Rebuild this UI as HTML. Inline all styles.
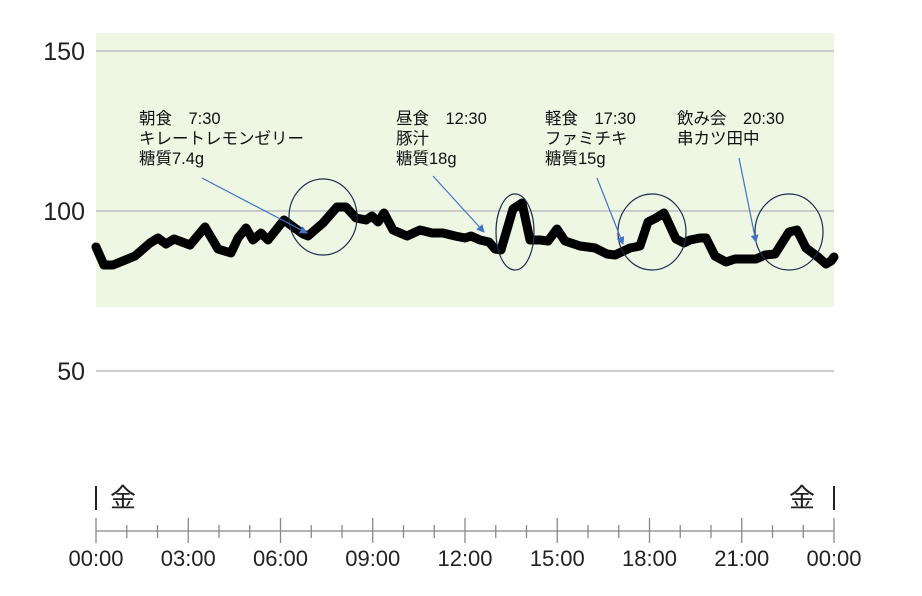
<!DOCTYPE html>
<html><head><meta charset="utf-8"><style>
html,body{margin:0;padding:0;background:#fff;}
svg text{font-family:"Liberation Sans","Noto Sans CJK JP",sans-serif;}
</style></head><body>
<svg width="922" height="591" viewBox="0 0 922 591" xmlns="http://www.w3.org/2000/svg">
<rect x="96" y="33" width="738" height="274" fill="#edf7e3"/>
<g stroke="#bdbdbd" stroke-width="1.5">
<line x1="96" y1="51" x2="834" y2="51"/>
<line x1="96" y1="211" x2="834" y2="211"/>
<line x1="96" y1="371" x2="834" y2="371"/>
</g>
<g font-size="25" fill="#222" text-anchor="end">
<text x="85" y="60">150</text>
<text x="85" y="220">100</text>
<text x="85" y="380">50</text>
</g>
<polyline fill="none" stroke="#000" stroke-width="9" stroke-linejoin="round" stroke-linecap="round" points="96,247 104,265 113,265 135,256 150,243 158,238 166,244 174,239 190,245 205,227 218,249 231,253 238,238 246,228 253,240 261,233 268,240 284,220 292,226 303,234 308,236 323,223 337,207 346,207 356,218 366,220 372,216 378,222 384,213 393,230 407,236 420,230 432,233 443,233 455,236 465,238 471,236 480,240 489,242 495,249 501,250 513,209 522,203 530,240 540,240 548,241 557,229 565,241 580,246 595,248 607,254 615,255 630,248 640,246 648,222 656,218 664,213 676,239 684,243 690,240 700,238 706,238 715,256 726,262 735,259 745,259 756,259 765,255 775,254 789,232 797,230 806,248 818,257 826,264 831,261 834,257"/>
<g fill="none" stroke="#1f2d4d" stroke-width="1.2">
<ellipse cx="323" cy="217" rx="34" ry="38"/>
<ellipse cx="515" cy="232" rx="19" ry="38"/>
<ellipse cx="652" cy="232" rx="34" ry="38"/>
<ellipse cx="789" cy="232" rx="34" ry="38"/>
</g>
<defs><marker id="ar" markerWidth="8" markerHeight="8" refX="7" refY="4" orient="auto" markerUnits="userSpaceOnUse"><path d="M0,0 L8,4 L0,8 z" fill="#4472c4"/></marker></defs>
<g stroke="#4472c4" stroke-width="1.2" marker-end="url(#ar)">
<line x1="202" y1="178" x2="307" y2="233"/>
<line x1="433" y1="176" x2="484" y2="232"/>
<line x1="597" y1="178" x2="623" y2="244"/>
<line x1="739" y1="158" x2="756" y2="242"/>
</g>
<g font-size="16.5" fill="#111">
<text x="139" y="124">朝食　7:30</text>
<text x="139" y="144">キレートレモンゼリー</text>
<text x="139" y="164">糖質7.4g</text>
<text x="396" y="124">昼食　12:30</text>
<text x="396" y="144">豚汁</text>
<text x="396" y="164">糖質18g</text>
<text x="545" y="124">軽食　17:30</text>
<text x="545" y="144">ファミチキ</text>
<text x="545" y="164">糖質15g</text>
<text x="677" y="124">飲み会　20:30</text>
<text x="677" y="144">串カツ田中</text>
</g>
<g stroke="#222" stroke-width="2">
<line x1="96" y1="486" x2="96" y2="510"/>
<line x1="834" y1="486" x2="834" y2="510"/>
</g>
<g font-size="26" fill="#222">
<text x="110" y="507">金</text>
<text x="789" y="507">金</text>
</g>
<g stroke="#888" stroke-width="1.3">
<line x1="96" y1="531" x2="834" y2="531"/>
<line x1="96" y1="518" x2="96" y2="543"/><line x1="188.25" y1="518" x2="188.25" y2="543"/><line x1="280.5" y1="518" x2="280.5" y2="543"/><line x1="372.75" y1="518" x2="372.75" y2="543"/><line x1="465" y1="518" x2="465" y2="543"/><line x1="557.25" y1="518" x2="557.25" y2="543"/><line x1="649.5" y1="518" x2="649.5" y2="543"/><line x1="741.75" y1="518" x2="741.75" y2="543"/><line x1="834" y1="518" x2="834" y2="543"/>
<path d="M126.75,525v13M157.5,525v13M219,525v13M249.75,525v13M311.25,525v13M342,525v13M403.5,525v13M434.25,525v13M495.75,525v13M526.5,525v13M588,525v13M618.75,525v13M680.25,525v13M711,525v13M772.5,525v13M803.25,525v13"/>
</g>
<g font-size="22" fill="#222" text-anchor="middle">
<text x="96" y="566">00:00</text><text x="188.25" y="566">03:00</text><text x="280.5" y="566">06:00</text><text x="372.75" y="566">09:00</text><text x="465" y="566">12:00</text><text x="557.25" y="566">15:00</text><text x="649.5" y="566">18:00</text><text x="741.75" y="566">21:00</text><text x="834" y="566">00:00</text>
</g>
</svg>
</body></html>
